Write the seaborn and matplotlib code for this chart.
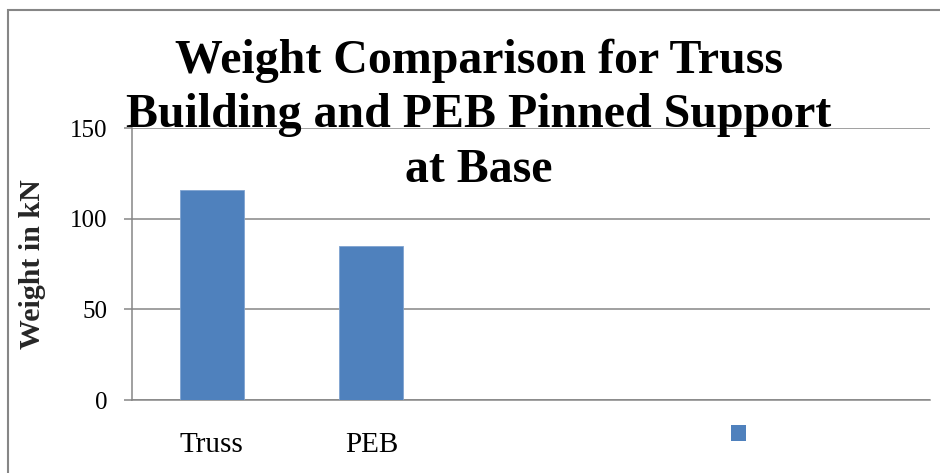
import matplotlib
matplotlib.use("Agg")
import matplotlib.pyplot as plt
from matplotlib.patches import Rectangle, Patch
import seaborn as sns
import pandas as pd

# Chart data
categories = ["Truss", "PEB"]
weights_kn = [116, 85]
n_slots = 5                      # category slots on the x axis
y_ticks = [0, 50, 100, 150]
series_label = ""
title_text = "Weight Comparison for Truss\nBuilding and PEB Pinned Support\nat Base"
y_label = "Weight in kN"

BAR_COLOR = "#4F81BD"
GRID_COLOR = "#868686"
SERIF = ["Liberation Serif", "DejaVu Serif"]

sns.set_theme(style="white")
plt.rcParams["font.family"] = SERIF

W, H = 940, 473
fig = plt.figure(figsize=(W / 100, H / 100), dpi=100)
ax = fig.add_axes([132 / W, 1 - 400 / H, (930 - 132) / W, (400 - 128) / H])

df = pd.DataFrame({"category": categories, "weight": weights_kn})
sns.barplot(data=df, x="category", y="weight", color=BAR_COLOR, width=0.4,
            saturation=1, ax=ax, zorder=3)
for bar in ax.patches:
    bar.set_edgecolor("#7FA3D0")
    bar.set_linewidth(0.6)

ax.set_xlim(-0.5, n_slots - 0.5)
ax.set_ylim(0, 150)
ax.set_yticks(y_ticks)
ax.set_yticklabels([str(t) for t in y_ticks], fontsize=18, color="black")
ax.set_xticks(range(len(categories)))
ax.set_xticklabels(categories, fontsize=21, color="black")
ax.tick_params(axis="y", length=6, width=1.1, color=GRID_COLOR, pad=12, left=True)
ax.tick_params(axis="x", length=0, pad=23)

ax.grid(axis="y", color=GRID_COLOR, linewidth=1.1, zorder=0)
ax.grid(axis="x", visible=False)
ax.set_axisbelow(True)
for side in ["top", "right"]:
    ax.spines[side].set_visible(False)
for side in ["left", "bottom"]:
    ax.spines[side].set_color(GRID_COLOR)
    ax.spines[side].set_linewidth(1.1)

ax.set_xlabel("")
ax.set_ylabel(y_label, fontsize=21.5, fontweight="bold")
ax.yaxis.set_label_coords((46 - 132) / (930 - 132), 0.5)

fig.text(479 / W, 1 - 182 / H, title_text, ha="center", va="baseline",
         multialignment="center", fontsize=34.5, fontweight="bold",
         linespacing=1.31, color="black")

fig.legend(handles=[Patch(facecolor=BAR_COLOR, edgecolor="none")],
           labels=[series_label], loc="center",
           bbox_to_anchor=(738 / W, 1 - 436 / H),
           frameon=False, handlelength=0.6, handleheight=0.6,
           handletextpad=0, borderpad=0, borderaxespad=0, fontsize=18)

# outer chart border
fig.patches.append(Rectangle((8 / W, -0.2), 1.2, 1.2 - 10 / H,
                             transform=fig.transFigure, fill=False,
                             edgecolor=GRID_COLOR, linewidth=1.5))

fig.savefig("out.png", dpi=100)
